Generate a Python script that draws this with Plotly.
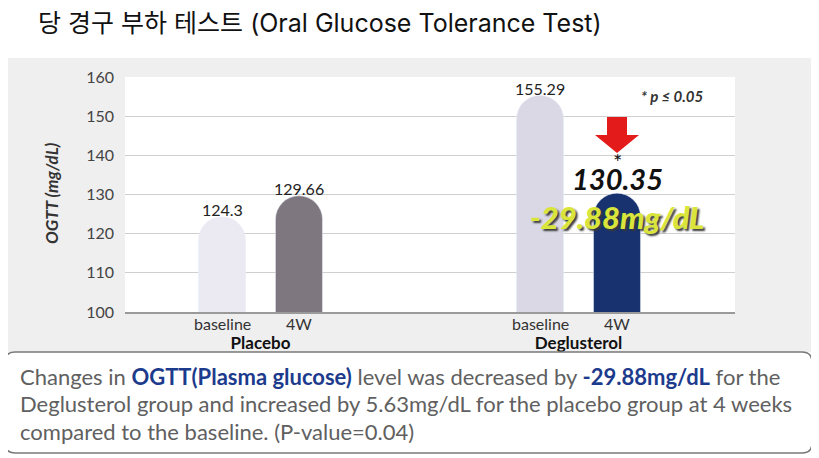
"""OGTT bar chart: placebo vs Deglusterol, baseline and 4 weeks."""
import plotly.graph_objects as go

groups = ["Placebo", "Deglusterol"]
timepoints = ["baseline", "4W"]
baseline = [124.3, 155.29]
week4 = [129.66, 130.35]
change_label = "-29.88mg/dL"
p_note = "* p ≤ 0.05"

BASE_COLORS = ["#ebe9f2", "#dbd8e5"]
W4_COLORS = ["#7e7780", "#17326f"]
FONT = "Lato, 'Noto Sans', sans-serif"
OFF = 8  # page body margin
W, H = 819 - OFF, 458 - OFF
# plot area in page pixels
PL, PR, PT, PB = 125, 735, 77, 312
ML, MR, MT, MB = PL - OFF, W - (PR - OFF), PT - OFF, H - (PB - OFF)
BARGAP, GROUPGAP = 0.516, 0.39
HALF = (1 - BARGAP) / 4  # offset of each bar from its group centre


def px_x(p):  # page pixel -> paper x
    return (p - PL) / (PR - PL)


def px_y(p):  # page pixel -> paper y
    return (PB - p) / (PB - PT)


def rounded(x0, y0, x1, y1, r):
    # page pixels -> offsets from plot origin, y up
    x0, x1 = x0 - PL, x1 - PL
    y0, y1 = PB - y0, PB - y1
    return (f"M{x0 + r},{y0} L{x1 - r},{y0} Q{x1},{y0} {x1},{y0 - r} "
            f"L{x1},{y1 + r} Q{x1},{y1} {x1 - r},{y1} L{x0 + r},{y1} "
            f"Q{x0},{y1} {x0},{y1 + r} L{x0},{y0 - r} Q{x0},{y0} {x0 + r},{y0} Z")


fig = go.Figure()
fig.add_bar(x=groups, y=baseline, name=timepoints[0], marker_color=BASE_COLORS,
            marker_cornerradius="50%", hoverinfo="skip")
fig.add_bar(x=groups, y=week4, name=timepoints[1], marker_color=W4_COLORS,
            marker_cornerradius="50%", hoverinfo="skip")
# change line for Deglusterol
fig.add_scatter(x=[1 - HALF, 1 + HALF], y=[baseline[1], week4[1]], mode="lines+markers",
                line=dict(color="#e32222", width=1.5),
                marker=dict(color="#e32222", size=11), hoverinfo="skip")


def note(text, x, y, size, color="#222", xref="paper", yref="paper", **kw):
    fkw = {k: kw.pop(k) for k in ("weight", "style", "shadow") if k in kw}
    return dict(text=text, x=x, y=y, xref=xref, yref=yref, showarrow=False,
                xanchor=kw.pop("xanchor", "center"), yanchor=kw.pop("yanchor", "middle"),
                font=dict(size=size, color=color, family=FONT, **fkw), **kw)


ann = []
for gi in range(len(groups)):
    for ti, vals in enumerate([baseline, week4]):
        xo = gi + (-HALF if ti == 0 else HALF)
        ann.append(note(timepoints[ti], xo, 0, 16, "#333", xref="x", yshift=-11))
        if gi == 1 and ti == 1:
            continue
        ann.append(note(f"{vals[gi]:g}", xo, vals[gi], 16, "#222", xref="x", yref="y",
                        yshift=7))

ann += [
    note(f"{week4[1]:g}", 1 + HALF, px_y(178), 29, "#111", xref="x",
         weight="bold", style="italic"),
    note("*", 1 + HALF, px_y(161), 22, "#111", xref="x"),
    note(change_label, 1 + HALF, px_y(217), 31, "#d9e53a", xref="x", weight=900,
         style="italic", shadow="2px 2px 2px #3a3a3a"),
    note(p_note, px_x(672), px_y(96), 15, "#333", weight="bold", style="italic"),
    note("OGTT (mg/dL)", px_x(51), px_y(194), 17, "#333", textangle=-90,
         weight="bold", style="italic"),
]

NAVY = "#1d3b8c"
lines = [
    f"Changes in <b><span style='color:{NAVY}'>OGTT(Plasma glucose)</span></b> level was "
    f"decreased by <b><span style='color:{NAVY}'>{change_label}</span></b> for the",
    "Deglusterol group and increased by 5.63mg/dL for the placebo group at 4 weeks",
    "compared to the baseline. (P-value=0.04)",
]
for i, t in enumerate(lines):
    ann.append(note(t, px_x(18), px_y(376 + 27.5 * i), 22, "#606060", xanchor="left"))

shapes = [
    dict(type="rect", xref="paper", yref="paper", x0=px_x(5), x1=px_x(815),
         y0=px_y(352), y1=px_y(58), fillcolor="#efefef", line_width=0, layer="below"),
    dict(type="rect", xref="paper", yref="paper", x0=0, x1=1, y0=0, y1=1,
         fillcolor="white", line_width=0, layer="below"),
    dict(type="path", xref="paper", yref="paper", xsizemode="pixel", ysizemode="pixel",
         xanchor=0, yanchor=0, path=rounded(5, 352, 812, 453, 10),
         fillcolor="white", line=dict(color="#7a7a7a", width=1.5)),
    dict(type="path", xref="x", yref="paper", xsizemode="pixel", ysizemode="pixel",
         xanchor=1 + HALF, yanchor=1,
         path="M-10,-40 L10,-40 L10,-58 L22,-58 L0,-76 L-22,-58 L-10,-58 Z",
         fillcolor="#e41b1b", line_width=0),
]

fig.update_layout(
    width=W, height=H, margin=dict(l=ML, r=MR, t=MT, b=MB),
    paper_bgcolor="white", plot_bgcolor="rgba(0,0,0,0)",
    barmode="group", bargap=BARGAP, bargroupgap=GROUPGAP, showlegend=False,
    font=dict(family=FONT),
    title=dict(text="당 경구 부하 테스트 (Oral Glucose Tolerance Test)",
               xref="container", yref="container", x=(38 - OFF) / W,
               y=1 - (23 - OFF) / H, xanchor="left", yanchor="middle",
               font=dict(size=25, color="#111",
                         family="Inter, 'Noto Sans CJK KR', sans-serif")),
    xaxis=dict(range=[-0.426, 1.492], showline=True, linecolor="#9a9a9a", linewidth=2,
               showgrid=False, ticks="", ticklabelstandoff=15,
               tickfont=dict(size=17, color="#111", family=FONT, weight="bold")),
    yaxis=dict(range=[100, 160], dtick=10, showgrid=True, gridcolor="#cfcfcf",
               gridwidth=1, zeroline=False, ticks="", ticklabelstandoff=10,
               tickfont=dict(size=16, color="#444", family=FONT)),
    annotations=ann, shapes=shapes,
)

fig.write_html("out.html")
